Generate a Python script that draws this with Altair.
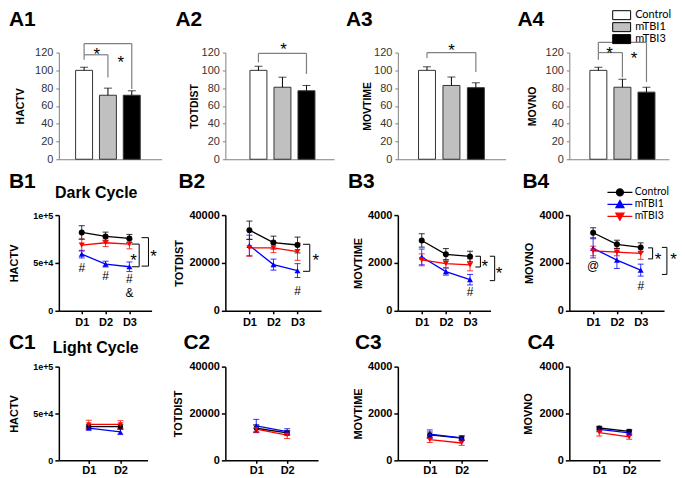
import altair as alt
import pandas as pd

GROUPS = ["Control", "mTBI1", "mTBI3"]
MEASURES = ["HACTV", "TOTDIST", "MOVTIME", "MOVNO"]

# ---------------- Row A: totals, % of control (mean, SEM) ----------------
A1_MEAN = [100, 72, 72]
A1_SEM = [3.5, 8, 5]
A2_MEAN = [100, 81, 77]
A2_SEM = [4.5, 11.3, 6]
A3_MEAN = [100, 83, 80.5]
A3_SEM = [4, 9.5, 5.5]
A4_MEAN = [100, 81, 75.5]
A4_SEM = [3.5, 9, 5.5]
# brackets: (from group index, to group index, top, left end, right end)
A1_BRACKETS = [(0, 1, 117.5, 112, 92), (0, 2, 130, 117.5, 79)]
A1_STARS = [(0.53, 123), (1.54, 114)]
A2_BRACKETS = [(0, 2, 119, 109, 96)]
A2_STARS = [(1.05, 128)]
A3_BRACKETS = [(0, 2, 120, 114, 98)]
A3_STARS = [(1.0, 127.5)]
A4_BRACKETS = [(0, 1, 120, 112, 92), (0, 2, 131.5, 120, 87)]
A4_STARS = [(0.47, 124.5), (1.48, 118)]

# ---------------- Row B: dark cycle, days D1-D3 ----------------
DAYS_B = [1, 2, 3]
B1_MEAN = [[81900, 77700, 75600], [59200, 48800, 46000], [68600, 71100, 69700]]
B1_SEM = [[7000, 4500, 4200], [4000, 3000, 5000], [6300, 4000, 5000]]
B1_BRACKETS = [(3.09, 3.41, 69700, 46000), (3.51, 3.80, 76400, 46700)]
B1_STARS = [(3.17, 57100), (4.01, 61300)]
B1_MARKS = [("#", 1, 44200), ("#", 2, 36200), ("#", 3, 32700), ("&", 3, 18800)]

B2_MEAN = [[33700, 28500, 27500], [27300, 19300, 16800], [26300, 26300, 24700]]
B2_SEM = [[3800, 2700, 3300], [4300, 2300, 2900], [3500, 2000, 3600]]
B2_BRACKETS = [(3.23, 3.51, 27800, 16500)]
B2_STARS = [(3.76, 23000)]
B2_MARKS = [("#", 3, 8100)]

B3_MEAN = [[2940, 2360, 2270], [2250, 1640, 1300], [2130, 1970, 1920]]
B3_SEM = [[280, 240, 220], [330, 150, 220], [250, 170, 250]]
B3_BRACKETS = [(3.22, 3.43, 2280, 1830), (3.82, 4.02, 2280, 1260)]
B3_STARS = [(3.61, 2030), (4.2, 1760)]
B3_MARKS = [("#", 3, 770)]

B4_MEAN = [[3260, 2780, 2650], [2610, 2120, 1700], [2500, 2450, 2400]]
B4_SEM = [[210, 170, 190], [400, 350, 250], [200, 150, 250]]
B4_BRACKETS = [(3.31, 3.50, 2630, 2170), (3.89, 4.10, 2650, 1520)]
B4_STARS = [(3.73, 2330), (4.38, 2330)]
B4_MARKS = [("@", 1, 1870), ("#", 3, 1030)]

# ---------------- Row C: light cycle, days D1-D2 ----------------
DAYS_C = [1, 2]
C1_MEAN = [[36000, 36000], [34300, 30300], [38300, 38300]]
C1_SEM = [[2500, 2500], [2000, 2800], [4500, 4000]]
C2_MEAN = [[13700, 11700], [14700, 12300], [13300, 10800]]
C2_SEM = [[1500, 1000], [2800, 1200], [1500, 1500]]
C3_MEAN = [[1090, 950], [1120, 960], [880, 740]]
C3_SEM = [[120, 90], [180, 80], [120, 100]]
C4_MEAN = [[1380, 1240], [1320, 1170], [1185, 1000]]
C4_SEM = [[80, 80], [100, 100], [150, 100]]

# ---------------- styles ----------------
FONT = "Liberation Sans"
LEGFONT = "Lato"
AX_GREY = "#7f7f7f"
LINE_COLORS = ["black", "#0000ff", "#ff0000"]
POINT_SHAPES = ["circle", "triangle-up", "triangle-down"]
BAR_FILLS = ["white", "#c0c0c0", "black"]
LEG_PATHS = [
    "M-3.125,0H3.125M0.875,0A0.875,0.875,0,1,1,-0.875,0A0.875,0.875,0,1,1,0.875,0Z",
    "M-3.125,0H3.125M0,-0.95L1,0.8L-1,0.8Z",
    "M-3.125,0H3.125M0,0.95L1,-0.8L-1,-0.8Z",
]
BOX_PATH = "M-2,-1H2V1H-2Z"


def panel_label(label, dx, base_y):
    """Bold panel letter (A1, B2, ...) placed to the upper left of the plot."""
    return alt.Chart(pd.DataFrame({"t": [label]})).mark_text(
        font=FONT, fontSize=21, fontWeight="bold", align="left", baseline="alphabetic",
        color="black").encode(text="t:N", x=alt.value(dx), y=alt.value(base_y))


def bar_panel(label, measure, mean, sem, brackets, stars, width, xdom, title_dx, title_x,
              legend=None):
    df = pd.DataFrame({"group": GROUPS, "pos": list(range(len(GROUPS))), "mean": mean,
                       "hi": [m + s for m, s in zip(mean, sem)]})
    xsc = alt.Scale(domain=xdom, nice=False, zero=False)
    ysc = alt.Scale(domain=[0, 120], nice=False, zero=True)
    xax = alt.Axis(labels=False, ticks=False, title=None, grid=False,
                   domainColor=AX_GREY, domainWidth=1)
    yax = alt.Axis(tickCount=6, title=measure, titleFont=FONT,
                   titleFontSize=10.5, titleFontWeight="bold", titleColor="black",
                   titleX=title_x, titleBaseline="middle",
                   labelFont=FONT, labelFontSize=11, labelColor="#333", labelPadding=3,
                   labelFlush=False, labelOverlap=False, tickSize=3, tickColor=AX_GREY,
                   domainColor=AX_GREY, grid=False)
    base = alt.Chart(df)
    bars = base.mark_bar(orient="vertical", size=17, stroke="#333", strokeWidth=1).encode(
        x=alt.X("pos:Q", scale=xsc, axis=xax),
        y=alt.Y("mean:Q", scale=ysc, axis=yax),
        fill=alt.Fill("group:N", scale=alt.Scale(domain=GROUPS, range=BAR_FILLS),
                      legend=legend),
    )
    err = base.mark_rule(color="black", strokeWidth=1).encode(
        x="pos:Q", y=alt.Y("mean:Q", axis=yax), y2="hi:Q")
    cap = base.mark_tick(orient="horizontal", size=8, thickness=1, color="black").encode(
        x="pos:Q", y=alt.Y("hi:Q", axis=yax))
    bdf = pd.DataFrame(brackets, columns=["x1", "x2", "top", "yl", "yr"])
    bb = alt.Chart(bdf)
    h = bb.mark_rule(color=AX_GREY, strokeWidth=1.2).encode(
        x="x1:Q", x2="x2:Q", y=alt.Y("top:Q", axis=yax))
    vl = bb.mark_rule(color=AX_GREY, strokeWidth=1.2).encode(
        x="x1:Q", y=alt.Y("top:Q", axis=yax), y2="yl:Q")
    vr = bb.mark_rule(color=AX_GREY, strokeWidth=1.2).encode(
        x="x2:Q", y=alt.Y("top:Q", axis=yax), y2="yr:Q")
    sdf = pd.DataFrame(stars, columns=["x", "y"])
    sdf["t"] = "*"
    st = alt.Chart(sdf).mark_text(font=FONT, fontSize=17, baseline="alphabetic", dy=10,
                                  color="black").encode(
        x="x:Q", y=alt.Y("y:Q", axis=yax), text="t:N")
    return alt.layer(bars, err, cap, h, vl, vr, st, panel_label(label, title_dx, -27)).properties(
        width=width, height=107)


def line_panel(label, measure, means, sems, days, width, height, ydom, yvals, xdom,
               title_dx, title_y, title_x, ylabel_size, ylabel_expr=None,
               brackets=(), stars=(), marks=(), cycle=None, cycle_xy=(0, 0),
               legend=False, pt_size=36, xlabel_pad=3):
    rows = []
    for g, ms, ss in zip(GROUPS, means, sems):
        for d, m, s in zip(days, ms, ss):
            rows.append({"group": g, "day": d, "mean": m, "lo": m - s, "hi": m + s})
    df = pd.DataFrame(rows)
    xsc = alt.Scale(domain=xdom, nice=False, zero=False)
    ysc = alt.Scale(domain=ydom, nice=False)
    xax = alt.Axis(values=days, labelExpr="'D' + datum.value", title=None, grid=False,
                   labelFont=FONT, labelFontSize=11, labelFontWeight="bold",
                   labelColor="black", labelPadding=xlabel_pad, labelFlush=False,
                   labelOverlap=False, tickSize=3, tickColor="black", tickWidth=1.5,
                   domainColor="black", domainWidth=1.5)
    yargs = dict(values=yvals, title=measure, titleFont=FONT, titleFontSize=11,
                 titleFontWeight="bold", titleColor="black", titleX=title_x,
                 titleBaseline="middle", labelFont=FONT, labelFontSize=ylabel_size,
                 labelFontWeight="bold", labelColor="black", labelPadding=2,
                 labelFlush=False, labelOverlap=False, tickSize=4, tickColor="black",
                 tickWidth=1.5, domainColor="black", domainWidth=1.5, grid=False)
    if ylabel_expr:
        yargs["labelExpr"] = ylabel_expr
    else:
        yargs["format"] = "d"
    yax = alt.Axis(**yargs)
    color = alt.Color("group:N", scale=alt.Scale(domain=GROUPS, range=LINE_COLORS),
                      legend=None)
    base = alt.Chart(df)
    line = base.mark_line(strokeWidth=1.3).encode(
        x=alt.X("day:Q", scale=xsc, axis=xax), y=alt.Y("mean:Q", scale=ysc, axis=yax),
        color=color)
    err = base.mark_rule(strokeWidth=1, opacity=0.8).encode(
        x="day:Q", y="lo:Q", y2="hi:Q", color=color)
    cap_hi = base.mark_tick(orient="horizontal", size=6, thickness=1, opacity=0.8).encode(
        x="day:Q", y="hi:Q", color=color)
    cap_lo = base.mark_tick(orient="horizontal", size=6, thickness=1, opacity=0.8).encode(
        x="day:Q", y="lo:Q", color=color)
    pts = base.mark_point(filled=True, size=pt_size, opacity=1).encode(
        x="day:Q", y="mean:Q", color=color,
        shape=alt.Shape("group:N", scale=alt.Scale(domain=GROUPS, range=POINT_SHAPES),
                        legend=None))
    layers = [err, cap_hi, cap_lo, line, pts]
    if brackets:
        bdf = pd.DataFrame(list(brackets), columns=["x1", "x2", "top", "bot"])
        bb = alt.Chart(bdf)
        layers += [
            bb.mark_rule(color="black", strokeWidth=1).encode(x="x1:Q", x2="x2:Q", y="top:Q"),
            bb.mark_rule(color="black", strokeWidth=1).encode(x="x1:Q", x2="x2:Q", y="bot:Q"),
            bb.mark_rule(color="black", strokeWidth=1).encode(x="x2:Q", y="top:Q", y2="bot:Q"),
        ]
    if stars:
        sdf = pd.DataFrame(list(stars), columns=["x", "y"])
        sdf["t"] = "*"
        layers.append(alt.Chart(sdf).mark_text(font=FONT, fontSize=17, baseline="alphabetic",
                                               dy=10, color="black").encode(
            x="x:Q", y="y:Q", text="t:N"))
    if marks:
        mdf = pd.DataFrame(list(marks), columns=["t", "x", "y"])
        layers.append(alt.Chart(mdf).mark_text(font=FONT, fontSize=12, baseline="alphabetic",
                                               dy=4, color="black").encode(
            x="x:Q", y="y:Q", text="t:N"))
    if cycle:
        cdf = pd.DataFrame({"t": [cycle]})
        layers.append(alt.Chart(cdf).mark_text(font=FONT, fontSize=16, fontWeight="bold",
                                               align="center", baseline="middle",
                                               color="black").encode(
            text="t:N", x=alt.value(cycle_xy[0]), y=alt.value(cycle_xy[1])))
    layers.append(panel_label(label, title_dx, title_y))
    chart = alt.layer(*layers)
    if legend:
        leg = alt.Legend(orient="none", legendX=45.5, legendY=-28, title=None,
                         symbolSize=64, symbolStrokeWidth=1.3, symbolOpacity=1,
                         labelFont=LEGFONT, labelFontSize=10.5, labelColor="black",
                         labelOffset=9.5, rowPadding=-3.5, padding=0)
        cs = alt.Scale(domain=GROUPS, range=LINE_COLORS)
        ldf = pd.DataFrame({"group": GROUPS})
        leg_layer = alt.Chart(ldf).mark_point(opacity=0).encode(
            fill=alt.Fill("group:N", scale=cs, legend=leg),
            stroke=alt.Stroke("group:N", scale=cs, legend=leg),
            shape=alt.Shape("group:N", scale=alt.Scale(domain=GROUPS, range=LEG_PATHS),
                            legend=leg))
        chart = alt.layer(*layers, leg_layer).resolve_scale(
            color="independent", fill="independent", stroke="independent",
            shape="independent")
    return chart.properties(width=width, height=height)


A4_LEGEND = alt.Legend(orient="none", legendX=47, legendY=-43, title=None,
                       symbolType=BOX_PATH, symbolSize=81, symbolStrokeColor="black",
                       symbolStrokeWidth=1, labelFont=LEGFONT, labelFontSize=11,
                       labelColor="black", labelOffset=8, rowPadding=-3, padding=0)

B1_EXPR = "datum.value == 0 ? '0' : format(datum.value, '.0e')"

panels = [
    bar_panel("A1", MEASURES[0], A1_MEAN, A1_SEM, A1_BRACKETS, A1_STARS, 103, [-0.85, 3.04], -50, -38),
    bar_panel("A2", MEASURES[1], A2_MEAN, A2_SEM, A2_BRACKETS, A2_STARS, 109, [-1.17, 2.94], -50, -30.5),
    bar_panel("A3", MEASURES[2], A3_MEAN, A3_SEM, A3_BRACKETS, A3_STARS, 108, [-0.99, 3.01], -52, -30),
    bar_panel("A4", MEASURES[3], A4_MEAN, A4_SEM, A4_BRACKETS, A4_STARS, 100, [-1.0, 2.73], -52, -36.5,
              legend=A4_LEGEND),
    line_panel("B1", MEASURES[0], B1_MEAN, B1_SEM, DAYS_B, 93, 96, [0, 100000], [0, 50000, 100000],
               [0.04, 3.93], -50, -27, -44, 9, B1_EXPR, B1_BRACKETS, B1_STARS, B1_MARKS,
               cycle="Dark Cycle", cycle_xy=(37.5, -22)),
    line_panel("B2", MEASURES[1], B2_MEAN, B2_SEM, DAYS_B, 96, 96, [0, 40000], [0, 20000, 40000],
               [0, 3.98], -47, -27, -46, 11, None, B2_BRACKETS, B2_STARS, B2_MARKS),
    line_panel("B3", MEASURES[2], B3_MEAN, B3_SEM, DAYS_B, 93, 96, [0, 4000], [0, 2000, 4000],
               [0.01, 3.85], -50, -27, -39, 11, None, B3_BRACKETS, B3_STARS, B3_MARKS),
    line_panel("B4", MEASURES[3], B4_MEAN, B4_SEM, DAYS_B, 95, 96, [0, 4000], [0, 2000, 4000],
               [0, 3.98], -47, -27, -40, 11, None, B4_BRACKETS, B4_STARS, B4_MARKS, legend=True),
    line_panel("C1", MEASURES[0], C1_MEAN, C1_SEM, DAYS_C, 89, 94, [0, 100000], [0, 50000, 100000],
               [0.054, 2.86], -50, -18, -44, 9, B1_EXPR, cycle="Light Cycle", cycle_xy=(37, -19),
               pt_size=28, xlabel_pad=1),
    line_panel("C2", MEASURES[1], C2_MEAN, C2_SEM, DAYS_C, 93, 94, [0, 40000], [0, 20000, 40000],
               [0, 3.0], -42, -18, -47, 11, pt_size=28, xlabel_pad=1),
    line_panel("C3", MEASURES[2], C3_MEAN, C3_SEM, DAYS_C, 90, 94, [0, 4000], [0, 2000, 4000],
               [0, 2.81], -43, -18, -39.5, 11, pt_size=28, xlabel_pad=1),
    line_panel("C4", MEASURES[3], C4_MEAN, C4_SEM, DAYS_C, 91, 94, [0, 4000], [0, 2000, 4000],
               [0, 3.03], -42, -18, -40.5, 11, pt_size=28, xlabel_pad=1),
]

chart = alt.concat(*panels, columns=4, spacing={"row": 56, "column": 64}, bounds="flush")
chart = chart.resolve_scale(
    color="independent", fill="independent", stroke="independent", shape="independent"
).properties(padding=0, background="white").configure_view(stroke=None)

chart.save("out.html", embed_options={"renderer": "svg", "actions": False})
